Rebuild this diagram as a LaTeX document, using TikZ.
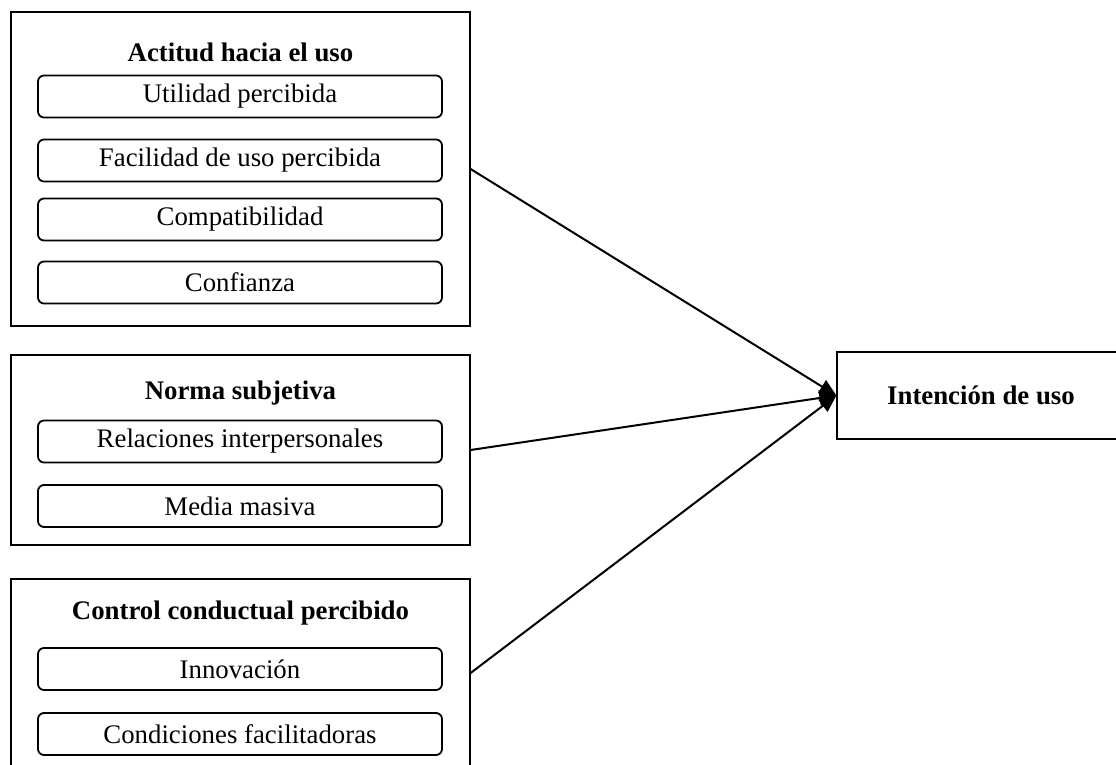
\documentclass[tikz,border=0pt]{standalone}
\usepackage{fontspec}
\setmainfont{Liberation Serif}
\usetikzlibrary{arrows.meta}
\begin{document}
\begin{tikzpicture}[x=1pt,y=-1pt,
  group/.style={draw,line width=1.2pt,minimum width=459pt,inner sep=0pt},
  item/.style={draw,line width=1.8pt,rounded corners=6pt,minimum width=404pt,minimum height=42pt,inner sep=0pt,font=\fontsize{26.8}{30}\selectfont},
  head/.style={font=\fontsize{26.8}{30}\selectfont\bfseries,inner sep=0pt},
  link/.style={line width=2pt,-{Triangle[length=17pt,width=15pt]}}]
\useasboundingbox (0,0) rectangle (1116,765);
% outer groups
\node[group,minimum height=314pt] (g1) at (240.5,169) {};
\node[group,minimum height=190pt] (g2) at (240.5,450) {};
\node[group,minimum height=200pt] (g3) at (240.5,679) {};
\node[group,minimum width=283pt,minimum height=87pt] (out) at (978.5,395.5) {};
\node[head] (outt) at (981,395.5) {Intención de uso};
% attitude
\node[head] (t1) at (240.5,52) {Actitud hacia el uso};
\node[item] (a1) at (240,96.5) {Utilidad percibida};
\node[item] (a2) at (240,160.5) {Facilidad de uso percibida};
\node[item] (a3) at (240,219.5) {Compatibilidad};
\node[item] (a4) at (240,282.5) {Confianza};
% subjective norm
\node[head] (t2) at (240.5,393) {Norma subjetiva};
\node[item] (b1) at (240,441.5) {Relaciones interpersonales};
\node[item] (b2) at (240,506) {Media masiva};
% perceived control
\node[head] (t3) at (240.5,613) {Control conductual percibido};
\node[item] (c1) at (240,669) {Innovación};
\node[item] (c2) at (240,734) {Condiciones facilitadoras};
% connectors
\coordinate (e3) at (g3.east |- 0,673);
\draw[link] (g1.east) -- (out.west);
\draw[link] (g2.east) -- (out.west);
\draw[link] (e3) -- (out.west);
\end{tikzpicture}
\end{document}
